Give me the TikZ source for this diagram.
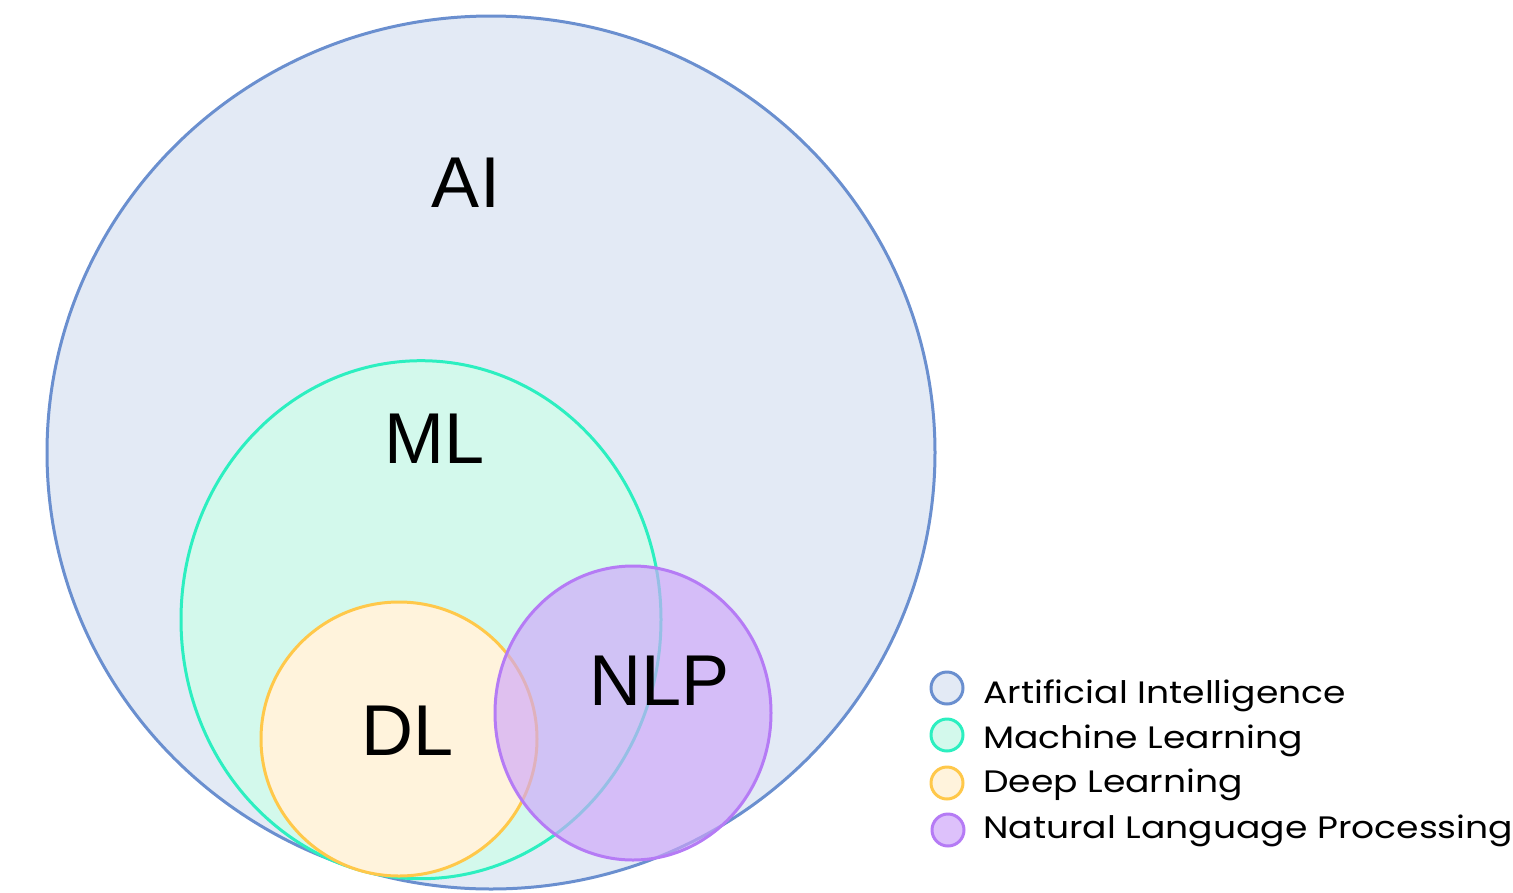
\documentclass[tikz,border=0pt]{standalone}
\usepackage{fontspec}
\setmainfont{Liberation Sans}
\newfontfamily\legfont[FakeStretch=1.165]{Poppins}
\definecolor{aiFill}{HTML}{E3EAF5}
\definecolor{aiLine}{HTML}{6A8FCF}
\definecolor{mlFill}{HTML}{D3F9EC}
\definecolor{mlLine}{HTML}{2CEFC0}
\definecolor{dlFill}{HTML}{FFF3DC}
\definecolor{dlLine}{HTML}{FFC84A}
\definecolor{nlpFill}{RGB}{207,166,250}
\definecolor{nlpLine}{HTML}{B57BF5}
\begin{document}
\begin{tikzpicture}[x=1pt,y=-1pt,
  setline/.style={line width=3pt},
  biglabel/.style={font=\fontsize{72}{72}\selectfont, inner sep=0pt, anchor=base},
  legtext/.style={font=\legfont\fontsize{31}{31}\selectfont, inner sep=0pt, anchor=base west},
  legdot/.style={circle, minimum size=32pt, inner sep=0pt, line width=3pt}]
\useasboundingbox (0,0) rectangle (1513,892);
% sets
\draw[setline, draw=aiLine, fill=aiFill] (491,452.5) ellipse [x radius=444, y radius=436.5];
\draw[setline, draw=mlLine, fill=mlFill] (421,619.7) ellipse [x radius=240, y radius=259];
\draw[setline, draw=dlLine, fill=dlFill] (399,739) ellipse [x radius=138, y radius=137];
\draw[setline, draw=nlpLine, fill=nlpFill, fill opacity=0.65] (633,713) ellipse [x radius=138, y radius=147];
% labels
\node[biglabel] (ai) at (466,207) {AI};
\node[biglabel] (ml) at (435,463) {ML};
\node[biglabel] (dl) at (408,755) {DL};
\node[biglabel] (nlp) at (660,705) {NLP};
% legend
\node[legdot, draw=aiLine, fill=aiFill] (k1) at (947,688) {};
\node[legdot, draw=mlLine, fill=mlFill] (k2) at (947,735) {};
\node[legdot, draw=dlLine, fill=dlFill] (k3) at (947,783) {};
\node[legdot, draw=nlpLine, fill=nlpFill!70!white] (k4) at (948,830) {};
\node[legtext] (t1) at (983,703) {Artificial Intelligence};
\node[legtext] (t2) at (983,748) {Machine Learning};
\node[legtext] (t3) at (983,792) {Deep Learning};
\node[legtext] (t4) at (983,838) {Natural Language Processing};
\end{tikzpicture}
\end{document}
